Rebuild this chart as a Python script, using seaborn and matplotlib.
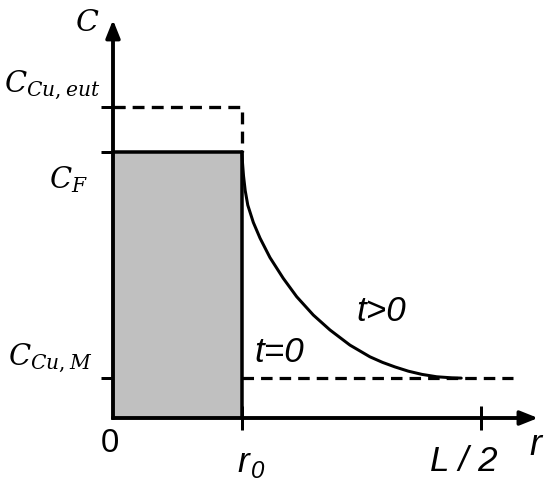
import numpy as np
import pandas as pd
import matplotlib.pyplot as plt
import seaborn as sns

# key positions of the schematic (r in units of r0, C in units of C_F)
r0 = 1.0
r_half = 2.85
r_dash_end = 3.10
r_tip = 3.295
c_F = 1.0
c_eut = 1.17
c_M = 0.15
c_tip = 1.496

# t>0 profile
curve_r = [1.0, 1.004, 1.012, 1.025, 1.045, 1.088, 1.140, 1.217, 1.320, 1.424,
           1.553, 1.682, 1.837, 1.992, 2.09, 2.186, 2.29, 2.395, 2.51, 2.628, 2.70]
curve_c = [1.0, 0.96, 0.91, 0.855, 0.80, 0.735, 0.676, 0.603, 0.525, 0.456,
           0.387, 0.331, 0.274, 0.230, 0.209, 0.192, 0.176, 0.164, 0.155, 0.151, 0.150]

sns.set_style("white")
plt.rcParams["mathtext.fontset"] = "dejavuserif"
plt.rcParams["text.color"] = "black"

fig = plt.figure(figsize=(550 / 72, 484 / 72), dpi=72)
ax = fig.add_axes([0, 0, 1, 1])
ax.set_xlim(-0.876, 3.388)
ax.set_ylim(-0.248, 1.571)

# shaded fiber region
ax.fill_between([0, r0], 0, c_F, color="#c0c0c0", lw=0)
ax.plot([0, r0, r0], [c_F, c_F, 0], color="k", lw=3.5, solid_capstyle="butt")

# eutectic level (dashed)
dash = (0, (3.6, 2.2))
ax.plot([0, r0, r0], [c_eut, c_eut, c_F], color="k", lw=3.3, ls=dash)

# t=0 matrix level
ax.plot([r0, r_dash_end], [c_M, c_M], color="k", lw=3.2, ls=dash)

# t>0 profile
prof = pd.DataFrame({"r": curve_r, "c": curve_c})
sns.lineplot(data=prof, x="r", y="c", sort=False, color="k", lw=3, ax=ax)

# axes with arrows
for s in ["top", "right"]:
    ax.spines[s].set_visible(False)
for s in ["left", "bottom"]:
    ax.spines[s].set_position(("data", 0))
    ax.spines[s].set_linewidth(3.5)
    ax.spines[s].set_color("k")
ax.spines["left"].set_bounds(0, c_tip - 0.03)
ax.spines["bottom"].set_bounds(0, r_tip - 0.06)
arrow = dict(arrowstyle="-|>,head_length=0.75,head_width=0.3", lw=3.5, color="k",
             mutation_scale=20, shrinkA=0, shrinkB=0)
ax.annotate("", xy=(0, c_tip), xytext=(0, 0), arrowprops=arrow)
ax.annotate("", xy=(r_tip, 0), xytext=(0, 0), arrowprops=arrow)

ax.set_yticks([c_M, c_F, c_eut])
ax.set_xticks([r0, r_half])
ax.tick_params(direction="inout", length=24, width=3, color="k",
               left=True, bottom=True, labelleft=False, labelbottom=False)
ax.set_xlabel("")
ax.set_ylabel("")

# labels
def lab(txt, xy, off, size, ha="center", va="center", **kw):
    ax.annotate(txt, xy=xy, xytext=off, textcoords="offset points",
                fontsize=size, ha=ha, va=va, color="black", **kw)

lab(r"$C$", (0, c_tip), (-26, -3), 30)
lab(r"$C_{Cu,eut}$", (0, c_eut), (-13, 15), 29, ha="right", va="baseline")
lab(r"$C_F$", (0, c_F), (-25, -36), 29, ha="right", va="baseline")
lab(r"$C_{Cu,M}$", (0, c_M), (-21, 13), 29, ha="right", va="baseline")

sans = "Liberation Sans"
lab("0", (0, 0), (-3, -25), 33, family=sans)
lab("r", (r0, 0), (-5, -54), 35, ha="left", va="baseline", family=sans, style="italic")
lab("0", (r0, 0), (9, -60), 24, ha="left", va="baseline", family=sans, style="italic")
lab("L / 2", (r_half, 0), (-17, -43), 35, family=sans, style="italic")
lab("r", (r_tip, 0), (-3, -27), 36, family=sans, style="italic")
ax.text(2.078, 0.402, "t>0", fontsize=35, ha="center", va="center", family=sans,
        style="italic", color="black")
ax.text(1.287, 0.248, "t=0", fontsize=35, ha="center", va="center", family=sans,
        style="italic", color="black")

fig.savefig("out.png", dpi=72)
